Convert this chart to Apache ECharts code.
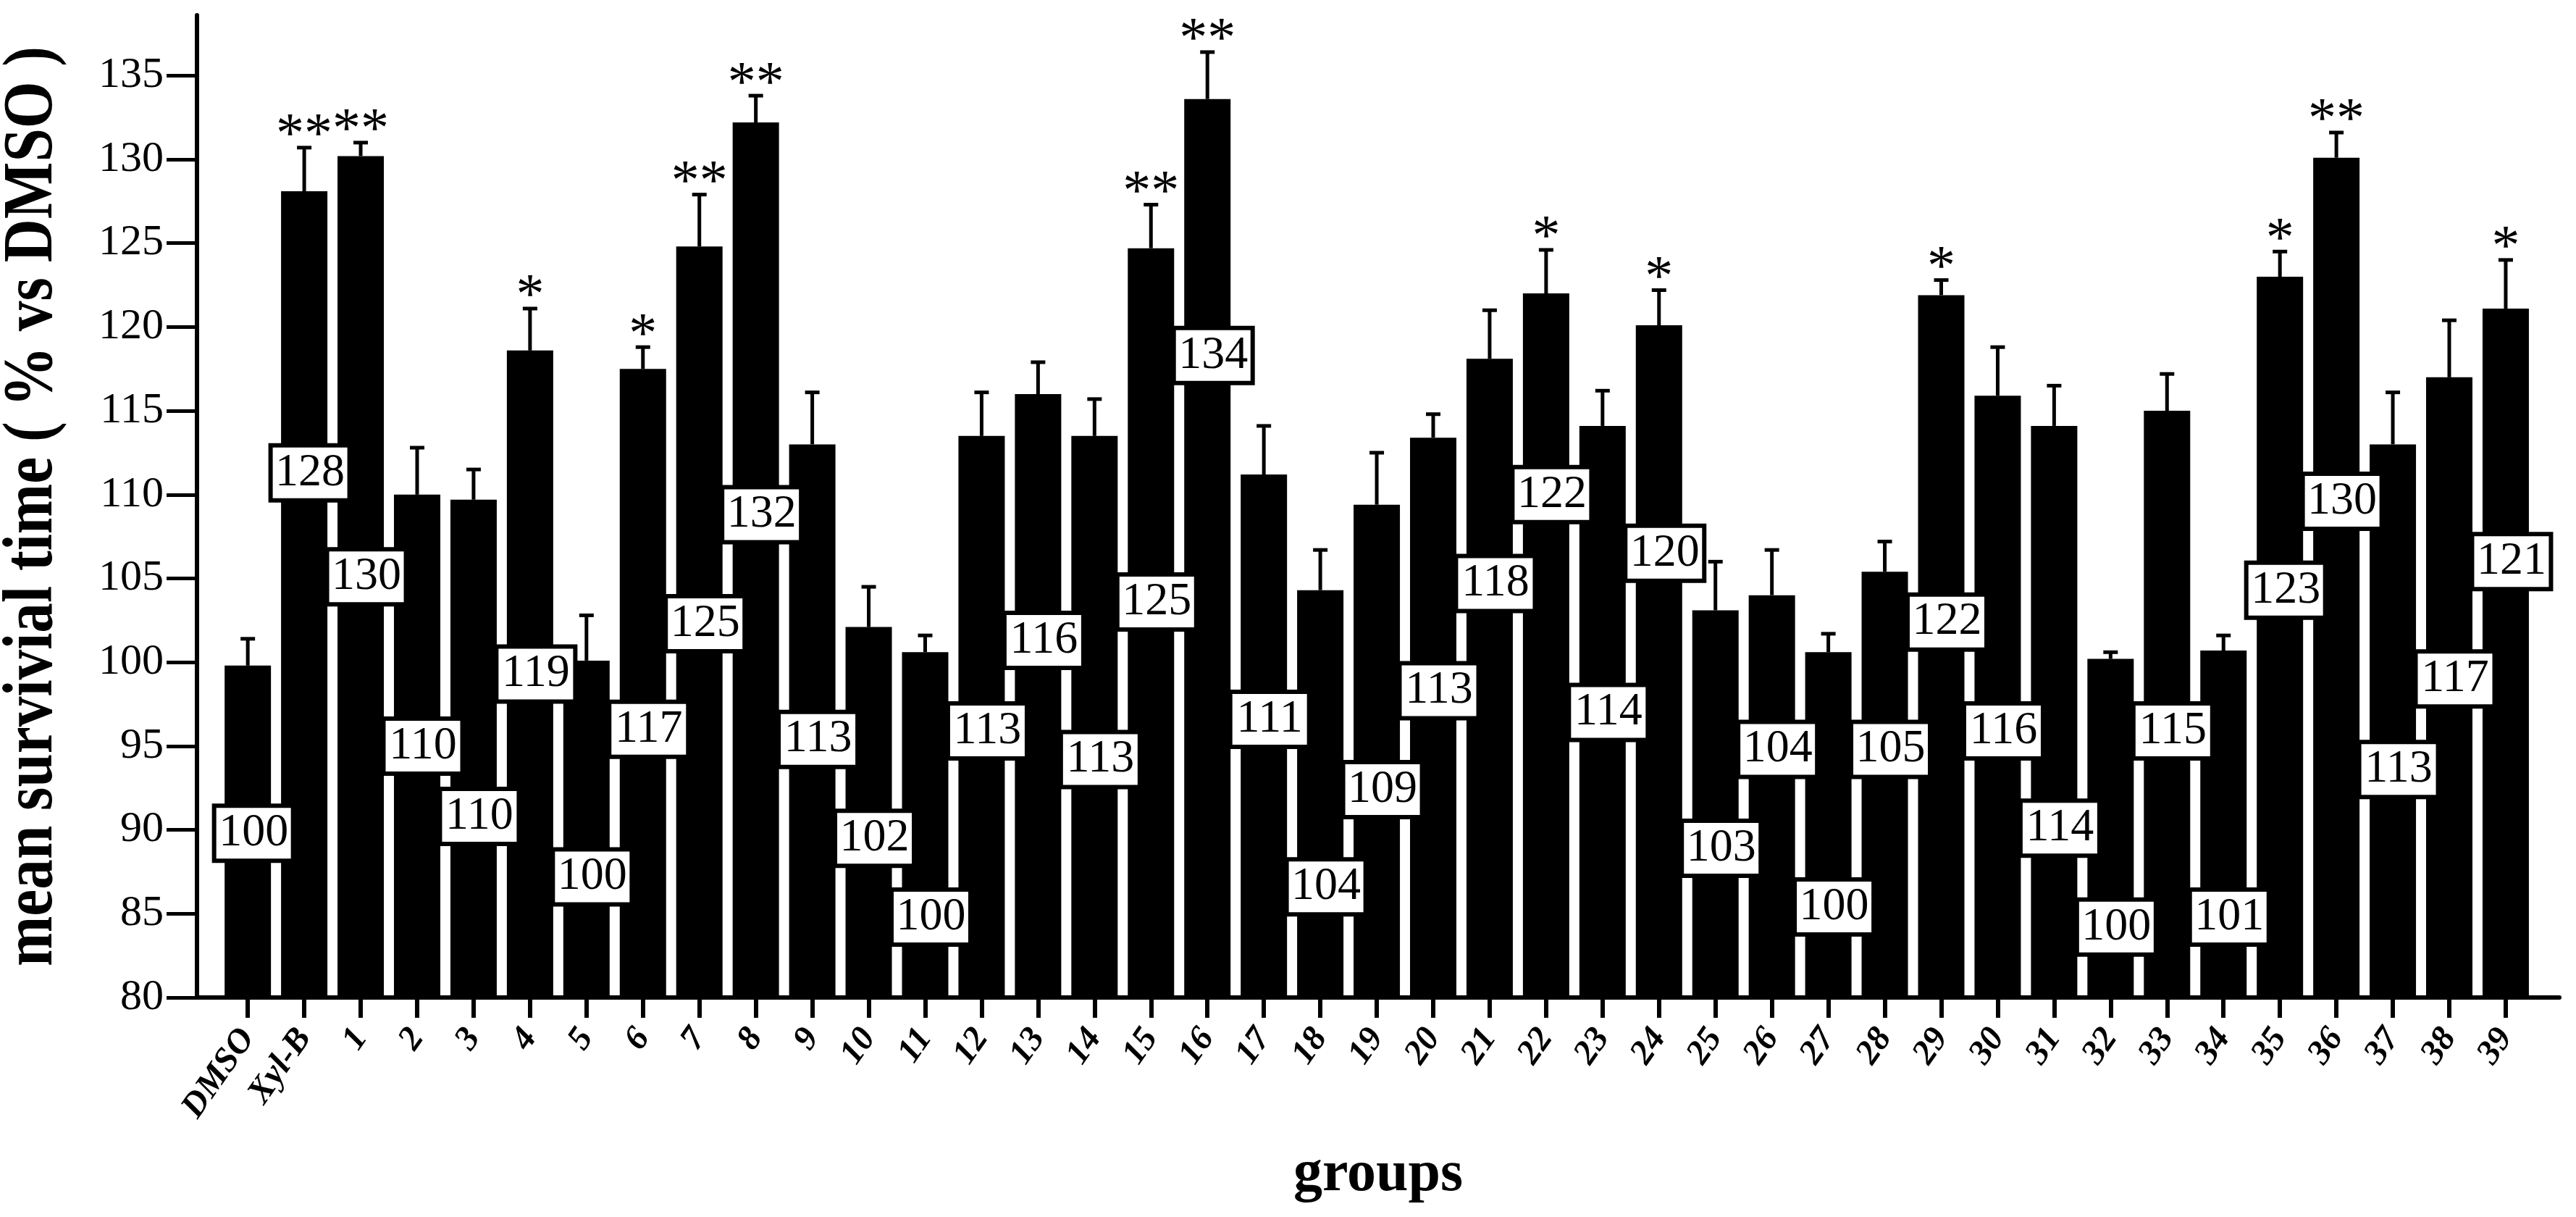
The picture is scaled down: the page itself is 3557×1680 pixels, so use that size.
<!DOCTYPE html>
<html>
<head>
<meta charset="utf-8">
<title>mean survival time</title>
<style>
  html, body { margin: 0; padding: 0; background: #fff; }
  #chart { width: 3557px; height: 1680px; }
</style>
<script src="https://cdn.jsdelivr.net/npm/echarts@6/dist/echarts.min.js"></script>
</head>
<body>
<div id="chart"></div>
<script>
// groups on the x axis
var groups = ['DMSO', 'Xyl-B', '1', '2', '3', '4', '5', '6', '7', '8', '9', '10',
  '11', '12', '13', '14', '15', '16', '17', '18', '19', '20', '21', '22', '23',
  '24', '25', '26', '27', '28', '29', '30', '31', '32', '33', '34', '35', '36',
  '37', '38', '39'];

// mean survival time (% vs DMSO)
var means = [99.8, 128.1, 130.2, 110.0, 109.7, 118.6, 100.1, 117.5, 124.8, 132.2,
  113.0, 102.1, 100.6, 113.5, 116.0, 113.5, 124.7, 133.6, 111.2, 104.3, 109.4,
  113.4, 118.1, 122.0, 114.1, 120.1, 103.1, 104.0, 100.6, 105.4, 121.9, 115.9,
  114.1, 100.2, 115.0, 100.7, 123.0, 130.1, 113.0, 117.0, 121.1];

// upper error bar length
var sems = [1.6, 2.6, 0.8, 2.8, 1.8, 2.5, 2.7, 1.3, 3.1, 1.6, 3.1, 2.4, 1.0, 2.6,
  1.9, 2.2, 2.6, 2.8, 2.9, 2.4, 3.1, 1.4, 2.9, 2.6, 2.1, 2.1, 2.9, 2.7, 1.1, 1.8,
  0.9, 2.9, 2.4, 0.4, 2.2, 0.9, 1.5, 1.5, 3.1, 3.4, 2.9];

// numbers printed in the boxes
var boxText = ['100', '128', '130', '110', '110', '119', '100', '117', '125', '132',
  '113', '102', '100', '113', '116', '113', '125', '134', '111', '104', '109',
  '113', '118', '122', '114', '120', '103', '104', '100', '105', '122', '116',
  '114', '100', '115', '101', '123', '130', '113', '117', '121'];

// height (axis units) where each box sits
var boxAt = [89.8, 111.3, 105.1, 95.0, 90.8, 99.3, 87.2, 96.0, 102.3, 108.8, 95.4,
  89.5, 84.8, 95.9, 101.3, 94.2, 103.6, 118.3, 96.6, 86.6, 92.4, 98.3, 104.7,
  110.0, 97.0, 106.5, 88.9, 94.8, 85.4, 94.8, 102.4, 95.9, 90.1, 84.2, 95.9,
  84.8, 104.3, 109.6, 93.6, 99.0, 106.0];

// significance marks
var stars = ['', '**', '**', '', '', '*', '', '*', '**', '**', '', '', '', '', '',
  '', '**', '**', '', '', '', '', '', '*', '', '*', '', '', '', '', '*', '', '',
  '', '', '', '*', '**', '', '', '*'];

var yTicks = [80, 85, 90, 95, 100, 105, 110, 115, 120, 125, 130, 135];

var serif = '"Liberation Serif", "Times New Roman", serif';

var idx = groups.map(function (g, i) { return i; });
var barData = means.map(function (m, i) { return [i, m]; });
var errData = means.map(function (m, i) { return [i, m, m + sems[i]]; });
var boxData = boxAt.map(function (v, i) { return [i, v]; });
var starData = means.map(function (m, i) { return [i, m + sems[i]]; });

var chart = echarts.init(document.getElementById('chart'), null, { renderer: 'canvas' });

var option = {
  backgroundColor: '#fff',
  animation: false,
  grid: { left: 272, right: 23, top: 21, bottom: 303 },
  xAxis: {
    type: 'value',
    min: -0.9,
    max: 40.95,
    name: 'groups',
    nameLocation: 'middle',
    nameGap: 205,
    nameTextStyle: { fontFamily: serif, fontWeight: 'bold', fontSize: 80, color: '#000' },
    axisLine: { onZero: false, lineStyle: { color: '#000', width: 6 } },
    axisTick: { show: true, length: 28, customValues: idx, lineStyle: { color: '#000', width: 6 } },
    axisLabel: {
      customValues: idx,
      rotate: 55,
      margin: 48,
      fontFamily: serif,
      fontWeight: 'bold',
      fontStyle: 'italic',
      fontSize: 48,
      color: '#000',
      formatter: function (v) { return groups[v]; }
    },
    splitLine: { show: false }
  },
  yAxis: {
    type: 'value',
    min: 80,
    max: 138.6,
    interval: 5,
    axisLine: { show: true, onZero: false, lineStyle: { color: '#000', width: 6 } },
    axisTick: { show: true, length: 42, customValues: yTicks, lineStyle: { color: '#000', width: 5 } },
    axisLabel: {
      customValues: yTicks,
      margin: 46,
      fontFamily: serif,
      fontSize: 60,
      color: '#000'
    },
    splitLine: { show: false }
  },
  graphic: [{
    type: 'text',
    x: 46,
    y: 699,
    rotation: Math.PI / 2,
    scaleX: 0.85,
    style: {
      text: 'mean survivial time ( % vs DMSO )',
      font: 'bold 98px ' + serif,
      fill: '#000',
      textAlign: 'center',
      textVerticalAlign: 'middle'
    }
  }],
  series: [
    {
      type: 'bar',
      data: barData,
      barWidth: 64,
      itemStyle: { color: '#000' },
      z: 2
    },
    {
      // upper error bars
      type: 'custom',
      data: errData,
      z: 3,
      renderItem: function (params, api) {
        var i = api.value(0);
        var base = api.coord([i, api.value(1)]);
        var top = api.coord([i, api.value(2)]);
        return {
          type: 'group',
          children: [
            { type: 'line', shape: { x1: top[0], y1: base[1], x2: top[0], y2: top[1] },
              style: { stroke: '#000', lineWidth: 5 } },
            { type: 'line', shape: { x1: top[0] - 10, y1: top[1], x2: top[0] + 10, y2: top[1] },
              style: { stroke: '#000', lineWidth: 5 } }
          ]
        };
      }
    },
    {
      // white value boxes
      type: 'custom',
      data: boxData,
      z: 4,
      renderItem: function (params, api) {
        var i = api.value(0);
        var p = api.coord([i, api.value(1)]);
        var cx = p[0] + 8;
        return {
          type: 'group',
          children: [
            { type: 'rect', shape: { x: cx - 54.5, y: p[1] - 38, width: 109, height: 76 },
              style: { fill: '#fff', stroke: '#000', lineWidth: 6 } },
            { type: 'text', x: cx, y: p[1],
              style: { text: boxText[i], font: '64px ' + serif, fill: '#000',
                textAlign: 'center', textVerticalAlign: 'middle' } }
          ]
        };
      }
    },
    {
      // asterisks
      type: 'custom',
      data: starData,
      z: 5,
      clip: false,
      renderItem: function (params, api) {
        var i = api.value(0);
        var p = api.coord([i, api.value(1)]);
        return {
          type: 'text',
          x: p[0],
          y: p[1] - 15,
          style: { text: stars[i], font: '78px ' + serif, fill: '#000',
            textAlign: 'center', textVerticalAlign: 'middle' }
        };
      }
    }
  ]
};

chart.setOption(option);
</script>
</body>
</html>
